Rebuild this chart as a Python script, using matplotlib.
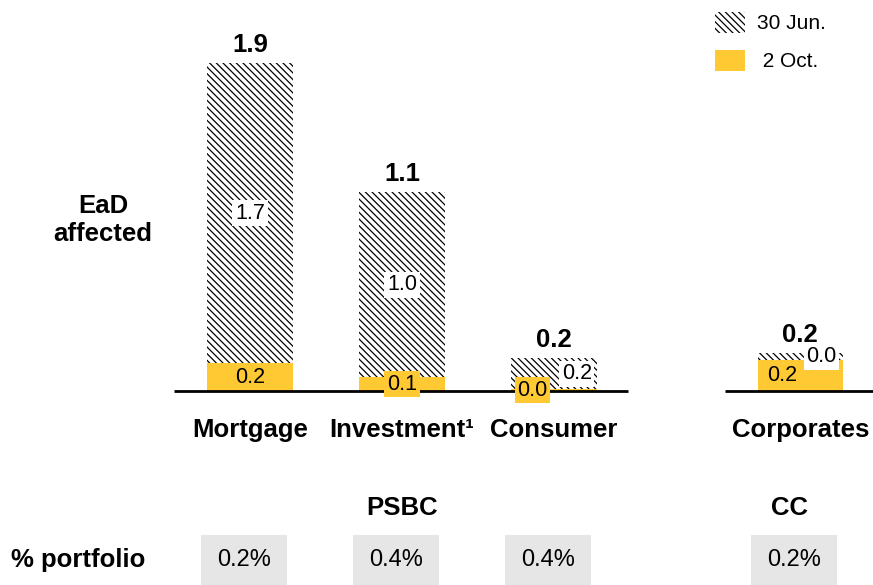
import numpy as np
import matplotlib
matplotlib.use("Agg")
import matplotlib.pyplot as plt
from matplotlib.patches import Patch

plt.rcParams['font.family'] = ['Liberation Sans', 'DejaVu Sans']
plt.rcParams['hatch.linewidth'] = 0.9

# data
categories = ['Mortgage', 'Investment\u00b9', 'Consumer', 'Corporates']
jun_vals = [1.74, 1.07, 0.18, 0.04]    # hatched part (30 Jun.)
oct_vals = [0.16, 0.08, 0.01, 0.18]    # yellow part (2 Oct.)
jun_labels = ['1.7', '1.0', '0.2', '0.0']
oct_labels = ['0.2', '0.1', '0.0', '0.2']
total_labels = ['1.9', '1.1', '0.2', '0.2']
portfolio = ['0.2%', '0.4%', '0.4%', '0.2%']
groups = ['PSBC', 'CC']

yellow = '#FFC933'
grey = '#E6E6E6'
hatch = '\\' * 5

pos = np.array([0, 1, 2, 3.62])
width = 0.56
# label nudges for the tiny bars
oct_dx = [0, 0, -0.14, -0.12]
jun_dx = [0, 0, 0.15, 0.14]

fig = plt.figure(figsize=(8.73, 5.85), dpi=100)
ax = fig.add_axes([0, 0, 1, 1])
ax.axis('off')
ax.set_xlim(-1.645, 4.099)
ax.set_ylim(-1.124, 2.265)

jun = np.array(jun_vals)
octo = np.array(oct_vals)

ax.bar(pos, octo, width, color=yellow, linewidth=0, zorder=2)
ax.bar(pos, jun, width, bottom=octo, color='white', edgecolor='black',
       hatch=hatch, linewidth=0, zorder=2)

# baseline, broken between the two groups
ax.plot([-0.5, 2.49], [0, 0], color='black', lw=2, zorder=3, solid_capstyle='butt')
ax.plot([3.125, 4.2], [0, 0], color='black', lw=2, zorder=3, solid_capstyle='butt')

for i in range(len(pos)):
    ax.text(pos[i] + oct_dx[i], octo[i] / 2, oct_labels[i], ha='center', va='center',
            fontsize=15.5, zorder=5,
            bbox=dict(boxstyle='square,pad=0.12', fc=yellow, ec='none'))
    ax.text(pos[i] + jun_dx[i], octo[i] + jun[i] / 2, jun_labels[i], ha='center',
            va='center', fontsize=15.5, zorder=5,
            bbox=dict(boxstyle='square,pad=0.12', fc='white', ec='none'))
    ax.annotate(total_labels[i], (pos[i], octo[i] + jun[i]), xytext=(0, 13),
                textcoords='offset points', ha='center', va='center',
                fontsize=18.5, fontweight='bold')
    ax.text(pos[i], -0.226, categories[i], ha='center', va='center',
            fontsize=18.5, fontweight='bold')
    # % portfolio boxes
    ax.bar(pos[i] - 0.04, 0.29, 0.57, bottom=-1.124, color=grey, linewidth=0)
    ax.text(pos[i] - 0.04, -0.98, portfolio[i], ha='center', va='center', fontsize=17)

ax.text(1.0, -0.678, groups[0], ha='center', va='center', fontsize=18.5, fontweight='bold')
ax.text(3.55, -0.678, groups[1], ha='center', va='center', fontsize=18.5, fontweight='bold')
ax.text(-1.13, -0.98, '% portfolio', ha='center', va='center', fontsize=18.5, fontweight='bold')
ax.text(-0.967, 0.99, 'EaD\naffected', ha='center', va='center', fontsize=18.5,
        fontweight='bold', linespacing=1.25)

handles = [Patch(facecolor='white', edgecolor='black', hatch=hatch, linewidth=0),
           Patch(facecolor=yellow, linewidth=0)]
fig.legend(handles, ['30 Jun.', ' 2 Oct.'], loc='upper left',
           bbox_to_anchor=(715 / 873, 1 - 12 / 585), frameon=False, fontsize=15,
           handlelength=1.45, handleheight=1.15, handletextpad=0.55,
           labelspacing=0.8, borderpad=0, borderaxespad=0)

fig.savefig('out.png', dpi=100)
